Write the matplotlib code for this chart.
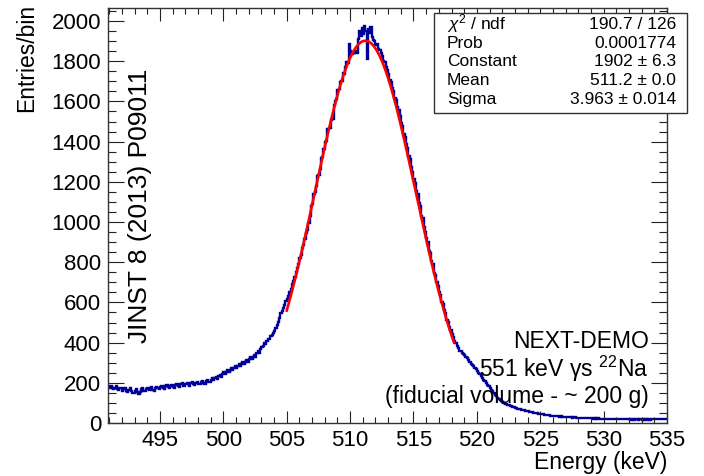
# plot.py
# =====================================================
# NEXT-DEMO energy spectrum of the 511 keV annihilation
# line (22Na source), with its Gaussian fit, drawn in a
# ROOT-like style.
# =====================================================

import numpy as np
import matplotlib
matplotlib.use("Agg")
import matplotlib.pyplot as plt
from matplotlib.ticker import MultipleLocator

OUT_FILE = "out.png"

# Histogram binning (keV)
BIN_START = 490.9
BIN_WIDTH = 0.1

# Entries per 0.1 keV bin, one row per keV starting at 490.9
COUNTS = [
    182, 176, 186, 174, 168, 176, 184, 170, 165, 175,            # 490.9
    172, 160, 168, 175, 158, 154, 166, 172, 160, 150,            # 491.9
    148, 160, 168, 156, 146, 155, 168, 172, 160, 158,            # 492.9
    170, 174, 162, 170, 180, 166, 160, 173, 181, 172,            # 493.9
    168, 178, 185, 176, 170, 182, 189, 178, 174, 186,            # 494.9
    190, 180, 176, 188, 195, 185, 180, 192, 197, 186,            # 495.9
    183, 194, 201, 192, 185, 197, 204, 192, 188, 199,            # 496.9
    206, 196, 192, 203, 210, 200, 195, 207, 215, 206,            # 497.9
    202, 214, 222, 212, 222, 230, 219, 233, 240, 230,            # 498.9
    242, 252, 243, 255, 264, 252, 264, 274, 264, 276,            # 499.9
    284, 274, 286, 295, 285, 296, 304, 294, 306, 314,            # 500.9
    304, 316, 326, 316, 330, 340, 330, 346, 356, 346,            # 501.9
    370, 380, 384, 398, 394, 410, 418, 420, 432, 438,            # 502.9
    448, 458, 472, 486, 505, 522, 546, 558, 574, 588,            # 503.9
    605, 615, 632, 652, 666, 690, 706, 725, 750, 772,            # 504.9
    792, 822, 838, 870, 888, 915, 945, 962, 995, 1030,           # 505.9
    1078, 1092, 1140, 1150, 1178, 1228, 1236, 1262, 1318, 1325,  # 506.9
    1365, 1400, 1405, 1462, 1470, 1468, 1510, 1515, 1580, 1600,  # 507.9
    1612, 1655, 1660, 1698, 1700, 1740, 1738, 1770, 1795, 1790,  # 508.9
    1885, 1850, 1838, 1845, 1840, 1850, 1842, 1912, 1950, 1928,  # 509.9
    1965, 1935, 1975, 1950, 1810, 1962, 1940, 1970, 1922, 1905,  # 510.9
    1900, 1880, 1885, 1860, 1858, 1840, 1828, 1800, 1798, 1770,  # 511.9
    1755, 1738, 1705, 1698, 1665, 1650, 1618, 1605, 1570, 1556,  # 512.9
    1528, 1494, 1478, 1440, 1425, 1388, 1370, 1330, 1312, 1275,  # 513.9
    1248, 1215, 1196, 1152, 1140, 1095, 1080, 1030, 1022, 975,   # 514.9
    950, 920, 900, 858, 845, 805, 792, 748, 738, 700,            # 515.9
    680, 650, 635, 602, 590, 560, 545, 512, 505, 476,            # 516.9
    462, 445, 428, 410, 398, 382, 372, 360, 356, 348,            # 517.9
    345, 340, 330, 322, 315, 305, 296, 290, 282, 272,            # 518.9
    268, 258, 250, 242, 232, 226, 215, 208, 198, 190,            # 519.9
    182, 175, 165, 158, 150, 140, 134, 126, 120, 112,            # 520.9
    110, 104, 102, 97, 94, 92, 88, 86, 84, 81,                   # 521.9
    80, 77, 76, 72, 71, 69, 67, 64, 63, 61,                      # 522.9
    60, 58, 56, 55, 53, 52, 51, 49, 48, 47,                      # 523.9
    46, 45, 43, 44, 41, 40, 41, 39, 38, 37,                      # 524.9
    37, 36, 35, 36, 33, 34, 32, 33, 31, 32,                      # 525.9
    30, 31, 29, 30, 28, 29, 27, 28, 28, 26,                      # 526.9
    27, 26, 27, 25, 24, 26, 24, 25, 23, 24,                      # 527.9
    24, 23, 24, 22, 23, 21, 23, 22, 21, 22,                      # 528.9
    22, 21, 20, 22, 21, 19, 21, 20, 19, 21,                      # 529.9
    20, 19, 21, 19, 18, 20, 19, 18, 20, 18,                      # 530.9
    19, 18, 17, 19, 18, 17, 19, 18, 17, 18,                      # 531.9
    18, 17, 19, 17, 18, 16, 18, 17, 19, 18,                      # 532.9
    18, 19, 20, 18, 21, 20, 22, 19, 21, 22,                      # 533.9
    21,                                                          # 534.9
]

# Gaussian fit result (from the stats box)
FIT_CONSTANT = 1902.0
FIT_MEAN = 511.2
FIT_SIGMA = 3.963
FIT_RANGE = (505.0, 518.2)

STATS_NAMES = [r"$\chi^{2}$ / ndf", "Prob", "Constant", "Mean", "Sigma"]
STATS_VALUES = ["190.7 / 126", "0.0001774", "1902 \u00b1 6.3",
                "511.2 \u00b1 0.0", "3.963 \u00b1 0.014"]

LABEL_LINES = ["NEXT-DEMO", "551 keV \u03b3s $^{22}$Na",
               "(fiducial volume - ~ 200 g)"]

W, H = 704, 476


def fx(px):
    return px / W


def fy(py):
    return 1 - py / H


def main():
    plt.rcParams["font.family"] = ["Liberation Sans", "DejaVu Sans"]
    plt.rcParams["mathtext.fontset"] = "custom"
    plt.rcParams["mathtext.rm"] = "Liberation Sans"
    plt.rcParams["mathtext.it"] = "Liberation Sans:italic"
    plt.rcParams["mathtext.bf"] = "Liberation Sans:bold"

    fig = plt.figure(figsize=(W / 100, H / 100), dpi=100)
    ax = fig.add_axes([fx(108), fy(423), fx(667) - fx(108), fy(8) - fy(423)])

    # -------------------------------------------------
    # Histogram + fit
    # -------------------------------------------------
    counts = np.array(COUNTS, dtype=float)
    edges = BIN_START + BIN_WIDTH * np.arange(len(counts) + 1)
    ax.stairs(counts, edges, baseline=None, color="#000099", lw=1.7)

    xf = np.linspace(FIT_RANGE[0], FIT_RANGE[1], 400)
    yf = FIT_CONSTANT * np.exp(-0.5 * ((xf - FIT_MEAN) / FIT_SIGMA) ** 2)
    ax.plot(xf, yf, color="red", lw=1.9)

    # -------------------------------------------------
    # Axes style (ROOT look)
    # -------------------------------------------------
    ax.set_xlim(BIN_START, edges[-1])
    ax.set_ylim(0, 2065)
    ax.xaxis.set_major_locator(MultipleLocator(5))
    ax.xaxis.set_minor_locator(MultipleLocator(1))
    ax.yaxis.set_major_locator(MultipleLocator(200))
    ax.yaxis.set_minor_locator(MultipleLocator(50))
    ax.tick_params(which="both", direction="in", top=True, right=True,
                   colors="#222222", labelcolor="black", width=0.8)
    ax.tick_params(axis="x", which="major", length=9, pad=5, labelsize=16)
    ax.tick_params(axis="x", which="minor", length=4.5)
    ax.tick_params(axis="y", which="major", length=11.5, pad=5, labelsize=16)
    ax.tick_params(axis="y", which="minor", length=5.8)
    for sp in ax.spines.values():
        sp.set_color("#333333")
        sp.set_linewidth(1.0)

    fig.text(fx(667), fy(463), "Energy (keV)", ha="right", va="center",
             fontsize=16.5)
    fig.text(fx(27), fy(4), "Entries/bin", rotation=90, ha="center",
             va="top", fontsize=16.5)

    # -------------------------------------------------
    # Annotations
    # -------------------------------------------------
    fig.text(fx(140), fy(206), "JINST 8 (2013) P09011", rotation=90,
             ha="center", va="center", fontsize=19)

    for line, base in zip(LABEL_LINES, [348, 377, 403]):
        fig.text(fx(649), fy(base), line, ha="right", va="baseline",
                 fontsize=16.5)

    # stats box
    box = plt.Rectangle((fx(434), fy(113)), fx(687) - fx(434),
                        fy(13) - fy(113), transform=fig.transFigure,
                        facecolor="white", edgecolor="#333333", lw=1.0,
                        zorder=5)
    fig.patches.append(box)
    for name, val, base in zip(STATS_NAMES, STATS_VALUES,
                               [29, 47.5, 66, 85, 104]):
        fig.text(fx(447), fy(base), name, ha="left", va="baseline",
                 fontsize=12.5, zorder=6)
        fig.text(fx(676), fy(base), val, ha="right", va="baseline",
                 fontsize=12.5, zorder=6)

    fig.savefig(OUT_FILE, dpi=100)
    plt.close(fig)


if __name__ == "__main__":
    main()
